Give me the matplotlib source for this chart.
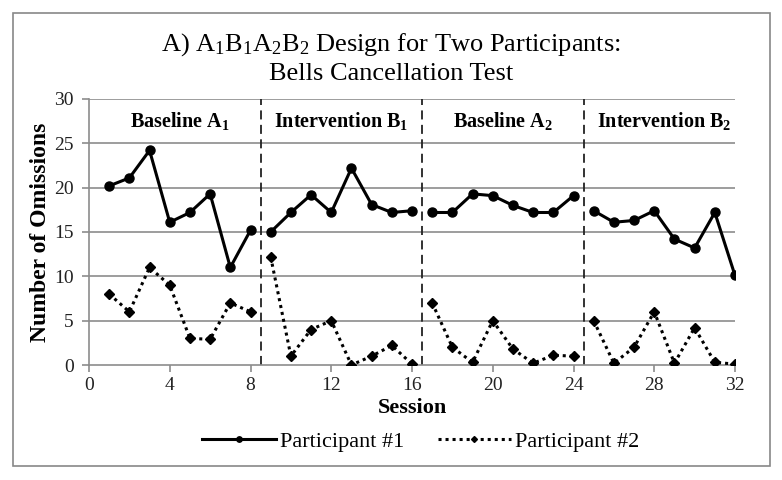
import matplotlib
matplotlib.use("Agg")
import matplotlib.pyplot as plt
from matplotlib.patches import Rectangle

plt.rcParams['font.family'] = ['Liberation Serif', 'DejaVu Serif']
plt.rcParams['mathtext.fontset'] = 'custom'
plt.rcParams['mathtext.rm'] = 'Liberation Serif'
plt.rcParams['mathtext.it'] = 'Liberation Serif:italic'
plt.rcParams['mathtext.bf'] = 'Liberation Serif:bold'

sessions = list(range(1, 33))
participant1 = [20.2, 21.1, 24.2, 16.1, 17.2, 19.3, 11.0, 15.2,
                15.0, 17.2, 19.2, 17.2, 22.2, 18.1, 17.2, 17.4,
                17.2, 17.2, 19.3, 19.1, 18.0, 17.2, 17.2, 19.1,
                17.4, 16.1, 16.3, 17.4, 14.2, 13.2, 17.2, 10.1]
participant2 = [8.0, 6.0, 11.0, 9.0, 3.0, 2.9, 7.0, 6.0,
                12.2, 1.0, 4.0, 5.0, 0.0, 1.0, 2.2, 0.1,
                7.0, 2.0, 0.3, 5.0, 1.8, 0.2, 1.1, 1.0,
                5.0, 0.2, 2.0, 6.0, 0.2, 4.2, 0.3, 0.1]
phase_breaks = [8.5, 16.5, 24.5]
phase_labels = [r"Baseline $\mathregular{A_1}$", r"Intervention $\mathregular{B_1}$",
                r"Baseline $\mathregular{A_2}$", r"Intervention $\mathregular{B_2}$"]
phase_label_x = [4.5, 12.5, 20.5, 28.5]
xticks = [0, 4, 8, 12, 16, 20, 24, 28, 32]
yticks = [0, 5, 10, 15, 20, 25, 30]

fig = plt.figure(figsize=(7.82, 4.80), dpi=100)
ax = fig.add_axes([89/782, 1-365/480, (735-89)/782, (365-99)/480])

# border around figure
fig.patches.append(Rectangle((13/782, 1-466/480), (770-13)/782, (466-13)/480,
                             transform=fig.transFigure, fill=False,
                             edgecolor='#888888', linewidth=1.2))

grid_c = '#8c8c8c'
for y in yticks[1:]:
    ax.axhline(y, color=grid_c, linewidth=1.2, zorder=1)

bounds = [0, 8, 16, 24, 32]
for i in range(4):
    xs = sessions[bounds[i]:bounds[i+1]]
    ax.plot(xs, participant1[bounds[i]:bounds[i+1]], color='black', linewidth=2.2,
            marker='o', markersize=6.5, zorder=3,
            label='Participant #1' if i == 0 else None)
    ax.plot(xs, participant2[bounds[i]:bounds[i+1]], color='black', linewidth=2.2,
            linestyle=(0, (1, 1.3)), marker='D', markersize=5, zorder=3,
            label='Participant #2' if i == 0 else None)

for xb in phase_breaks:
    ax.axvline(xb, color='#222222', linewidth=1.3, linestyle=(0, (5, 3)), zorder=2)

for lx, lab in zip(phase_label_x, phase_labels):
    ax.text(lx, 27.5, lab, ha='center', va='center', fontsize=14.5, fontweight='bold')

ax.set_xlim(0, 32)
ax.set_ylim(0, 30)
ax.set_xticks(xticks)
ax.set_yticks(yticks)
ax.tick_params(axis='both', colors=grid_c, labelcolor='#222222', labelsize=14,
               length=5, width=1.2)
ax.tick_params(axis='y', pad=6)
for s in ['top', 'right']:
    ax.spines[s].set_visible(False)
for s in ['left', 'bottom']:
    ax.spines[s].set_color(grid_c)
    ax.spines[s].set_linewidth(1.2)

ax.set_xlabel('Session', fontsize=16, fontweight='bold', labelpad=3)
ax.set_ylabel('Number of Omissions', fontsize=17, fontweight='bold', labelpad=2)

fig.text(391/782, 1-45/480,
         r"A) $\mathregular{A_1B_1A_2B_2}$ Design for Two Participants:",
         ha='center', va='center', fontsize=19)
fig.text(391/782, 1-74/480, "Bells Cancellation Test",
         ha='center', va='center', fontsize=19)

h, l = ax.get_legend_handles_labels()
leg = fig.legend(h, l, loc='center', bbox_to_anchor=(421/782, 1-442/480), ncol=2,
                 frameon=False, fontsize=16, handlelength=3.3, columnspacing=1.5,
                 handletextpad=0.2, markerscale=0.6)

fig.savefig('out.png', dpi=100)
